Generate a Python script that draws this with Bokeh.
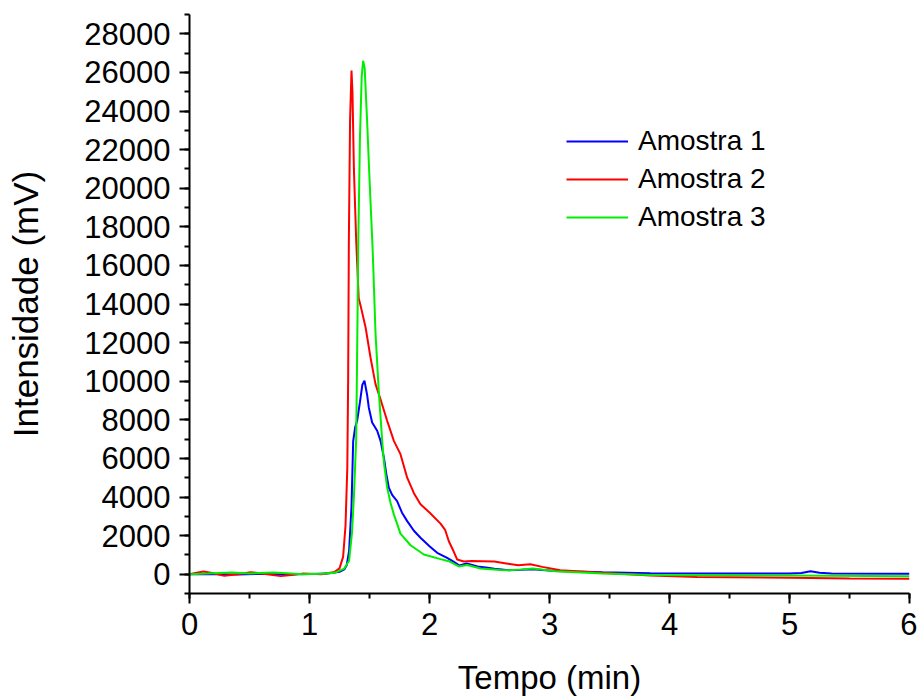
from bokeh.plotting import figure
from bokeh.models import SingleIntervalTicker, Range1d, Legend, LegendItem
from bokeh.embed import file_html
from bokeh.resources import INLINE

# ---- data ----
t_amostra1 = [0, 0.2, 0.4, 0.6, 0.8, 1.0, 1.15, 1.25, 1.29, 1.31, 1.33, 1.35, 1.364, 1.38, 1.397,
              1.42, 1.44, 1.458, 1.48, 1.494, 1.522, 1.564, 1.592, 1.62, 1.64, 1.661, 1.69, 1.73,
              1.77, 1.814, 1.87, 1.925, 2.0, 2.064, 2.147, 2.20, 2.25, 2.31, 2.40, 2.47, 2.54,
              2.66, 2.76, 2.86, 3.05, 3.2, 3.44, 3.84, 4.5, 5.0, 5.1, 5.175, 5.25, 5.35, 6.0]
v_amostra1 = [0, 10, -20, 20, -10, 10, 30, 120, 250, 465, 1200, 3500, 6900, 7600, 7950,
              8900, 9800, 10030, 9300, 8640, 7860, 7430, 6910, 6040, 5200, 4480, 4100, 3790,
              3200, 2750, 2250, 1890, 1450, 1110, 850, 650, 450, 560, 400, 350, 280,
              207, 230, 260, 172, 140, 100, 50, 40, 35, 60, 150, 70, 30, 20]

t_amostra2 = [0, 0.06, 0.117, 0.2, 0.29, 0.4, 0.51, 0.6, 0.76, 0.85, 0.94, 1.1, 1.21, 1.25, 1.28,
              1.30, 1.315, 1.322, 1.328, 1.338, 1.35, 1.358, 1.37, 1.389, 1.41, 1.43, 1.467,
              1.508, 1.55, 1.60, 1.647, 1.703, 1.758, 1.814, 1.87, 1.925, 2.0, 2.092, 2.13,
              2.161, 2.20, 2.231, 2.286, 2.35, 2.54, 2.64, 2.74, 2.84, 2.94, 3.09, 3.44, 3.84,
              4.23, 5.01, 5.5, 6.0]
v_amostra2 = [0, 80, 140, 50, -86, 0, 100, 40, -100, -40, 30, 0, 120, 300, 900,
              2500, 5500, 10000, 17300, 23500, 26100, 25000, 21000, 17300, 14300, 13800, 12800,
              11240, 9850, 8900, 7950, 6910, 6220, 5000, 4200, 3620, 3200, 2620, 2300,
              1710, 1200, 760, 660, 690, 655, 560, 465, 517, 380, 207, 70, -70,
              -140, -190, -220, -240]

t_amostra3 = [0, 0.15, 0.35, 0.5, 0.7, 0.85, 0.94, 1.1, 1.21, 1.29, 1.33, 1.354, 1.37, 1.389,
              1.398, 1.406, 1.42, 1.435, 1.447, 1.46, 1.48, 1.50, 1.525, 1.531, 1.55, 1.577,
              1.606, 1.62, 1.647, 1.675, 1.703, 1.758, 1.842, 1.953, 2.092, 2.161, 2.244, 2.314,
              2.425, 2.59, 2.66, 2.78, 2.86, 3.05, 3.44, 3.84, 5.01, 6.0]
v_amostra3 = [0, 30, 86, 40, 86, 40, 0, 20, 70, 290, 700, 2140, 4000, 7000,
              12000, 17000, 22500, 25800, 26600, 26200, 23500, 20500, 17000, 16000, 12500, 9500,
              6900, 5800, 4500, 3700, 3100, 2100, 1500, 1020, 780, 675, 400, 480,
              300, 220, 207, 250, 290, 155, 35, -35, -70, -100]

series_names = ["Amostra 1", "Amostra 2", "Amostra 3"]
series_colors = ["#0000ff", "#ff0000", "#00ee00"]
x_title = "Tempo (min)"
y_title = "Intensidade (mV)"

FONT = "Liberation Sans"

p = figure(width=917, height=698, output_backend="svg", toolbar_location=None,
           x_range=Range1d(0, 6), y_range=Range1d(-1000, 29000),
           min_border_left=189, min_border_right=8, min_border_top=14, min_border_bottom=105)
p.outline_line_color = None
p.grid.visible = False
p.background_fill_color = "white"
p.border_fill_color = "white"

renderers = []
for t, v, c in zip([t_amostra1, t_amostra2, t_amostra3],
                   [v_amostra1, v_amostra2, v_amostra3], series_colors):
    renderers.append(p.line(t, v, line_color=c, line_width=2))

p.xaxis.ticker = SingleIntervalTicker(interval=1, num_minor_ticks=2)
p.yaxis.ticker = SingleIntervalTicker(interval=2000, num_minor_ticks=2)

for ax in (p.xaxis, p.yaxis):
    ax.axis_line_width = 2
    ax.axis_line_color = "black"
    ax.major_tick_line_width = 2
    ax.minor_tick_line_width = 2
    ax.major_tick_line_color = "black"
    ax.minor_tick_line_color = "black"
    ax.major_tick_in = 0
    ax.major_tick_out = 10
    ax.minor_tick_in = 0
    ax.minor_tick_out = 5
    ax.major_label_text_font = FONT
    ax.major_label_text_font_size = "31px"
    ax.major_label_text_color = "black"
    ax.axis_label_text_font = FONT
    ax.axis_label_text_font_style = "normal"
    ax.axis_label_text_color = "black"

p.xaxis.major_label_standoff = 9
p.yaxis.major_label_standoff = 9
p.xaxis.axis_label = x_title
p.yaxis.axis_label = y_title
p.xaxis.axis_label_text_font_size = "33px"
p.yaxis.axis_label_text_font_size = "35px"
p.xaxis.axis_label_standoff = 21
p.yaxis.axis_label_standoff = 36

legend = Legend(items=[LegendItem(label=n, renderers=[r]) for n, r in zip(series_names, renderers)],
                location=(377, 357), margin=0, padding=0, spacing=0,
                glyph_width=62, glyph_height=38, label_height=38, label_standoff=10,
                label_text_font=FONT, label_text_font_size="28px", label_text_color="black",
                border_line_color=None, background_fill_alpha=0)
p.add_layout(legend, "center")

open("out.html", "w").write(file_html(p, INLINE))
